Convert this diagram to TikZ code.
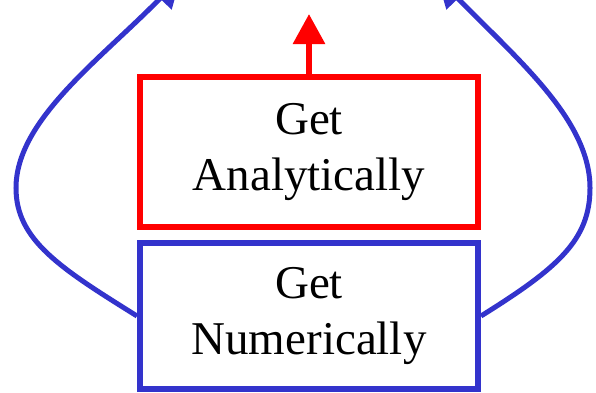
\documentclass[tikz,border=0pt]{standalone}
\usepackage{fontspec}
\setmainfont{Liberation Serif}
\usetikzlibrary{arrows.meta}
\definecolor{numblue}{HTML}{3333CC}
\definecolor{anared}{HTML}{FF0000}

\begin{document}
\begin{tikzpicture}[x=1pt,y=-1pt,
		box/.style={draw,line width=6pt,minimum width=338pt,inner sep=0pt,align=center,font=\fontsize{47}{56}\selectfont},
		ana/.style={draw=anared,minimum height=150pt},
		num/.style={draw=numblue,minimum height=146pt},
		up/.style={draw=anared,line width=6pt,-{Triangle[length=30pt,width=31pt]}},
		loop/.style={draw=numblue,line width=5pt,-{Triangle[length=30pt,width=31pt]}},
		]
		\useasboundingbox (0,0) rectangle (596,392);
		\clip (0,0) rectangle (596,392);

		\node[box,ana](ana) at (309,152) {Get\\Analytically};
		\node[box,num](num) at (309,316) {Get\\Numerically};

		\coordinate (tipup) at (309,14);
		\coordinate (tipleft) at (181,-23);
		\coordinate (tipright) at (437,-23);

		\draw[up] (ana.north) -- (tipup);
		\draw[loop] (num.west) .. controls (60,268) and (16,240) .. (16,188)
			.. controls (16,120) and (100,60) .. (tipleft);
		\draw[loop] (num.east) .. controls (558,268) and (590,240) .. (590,188)
			.. controls (590,120) and (518,60) .. (tipright);
\end{tikzpicture}
\end{document}
